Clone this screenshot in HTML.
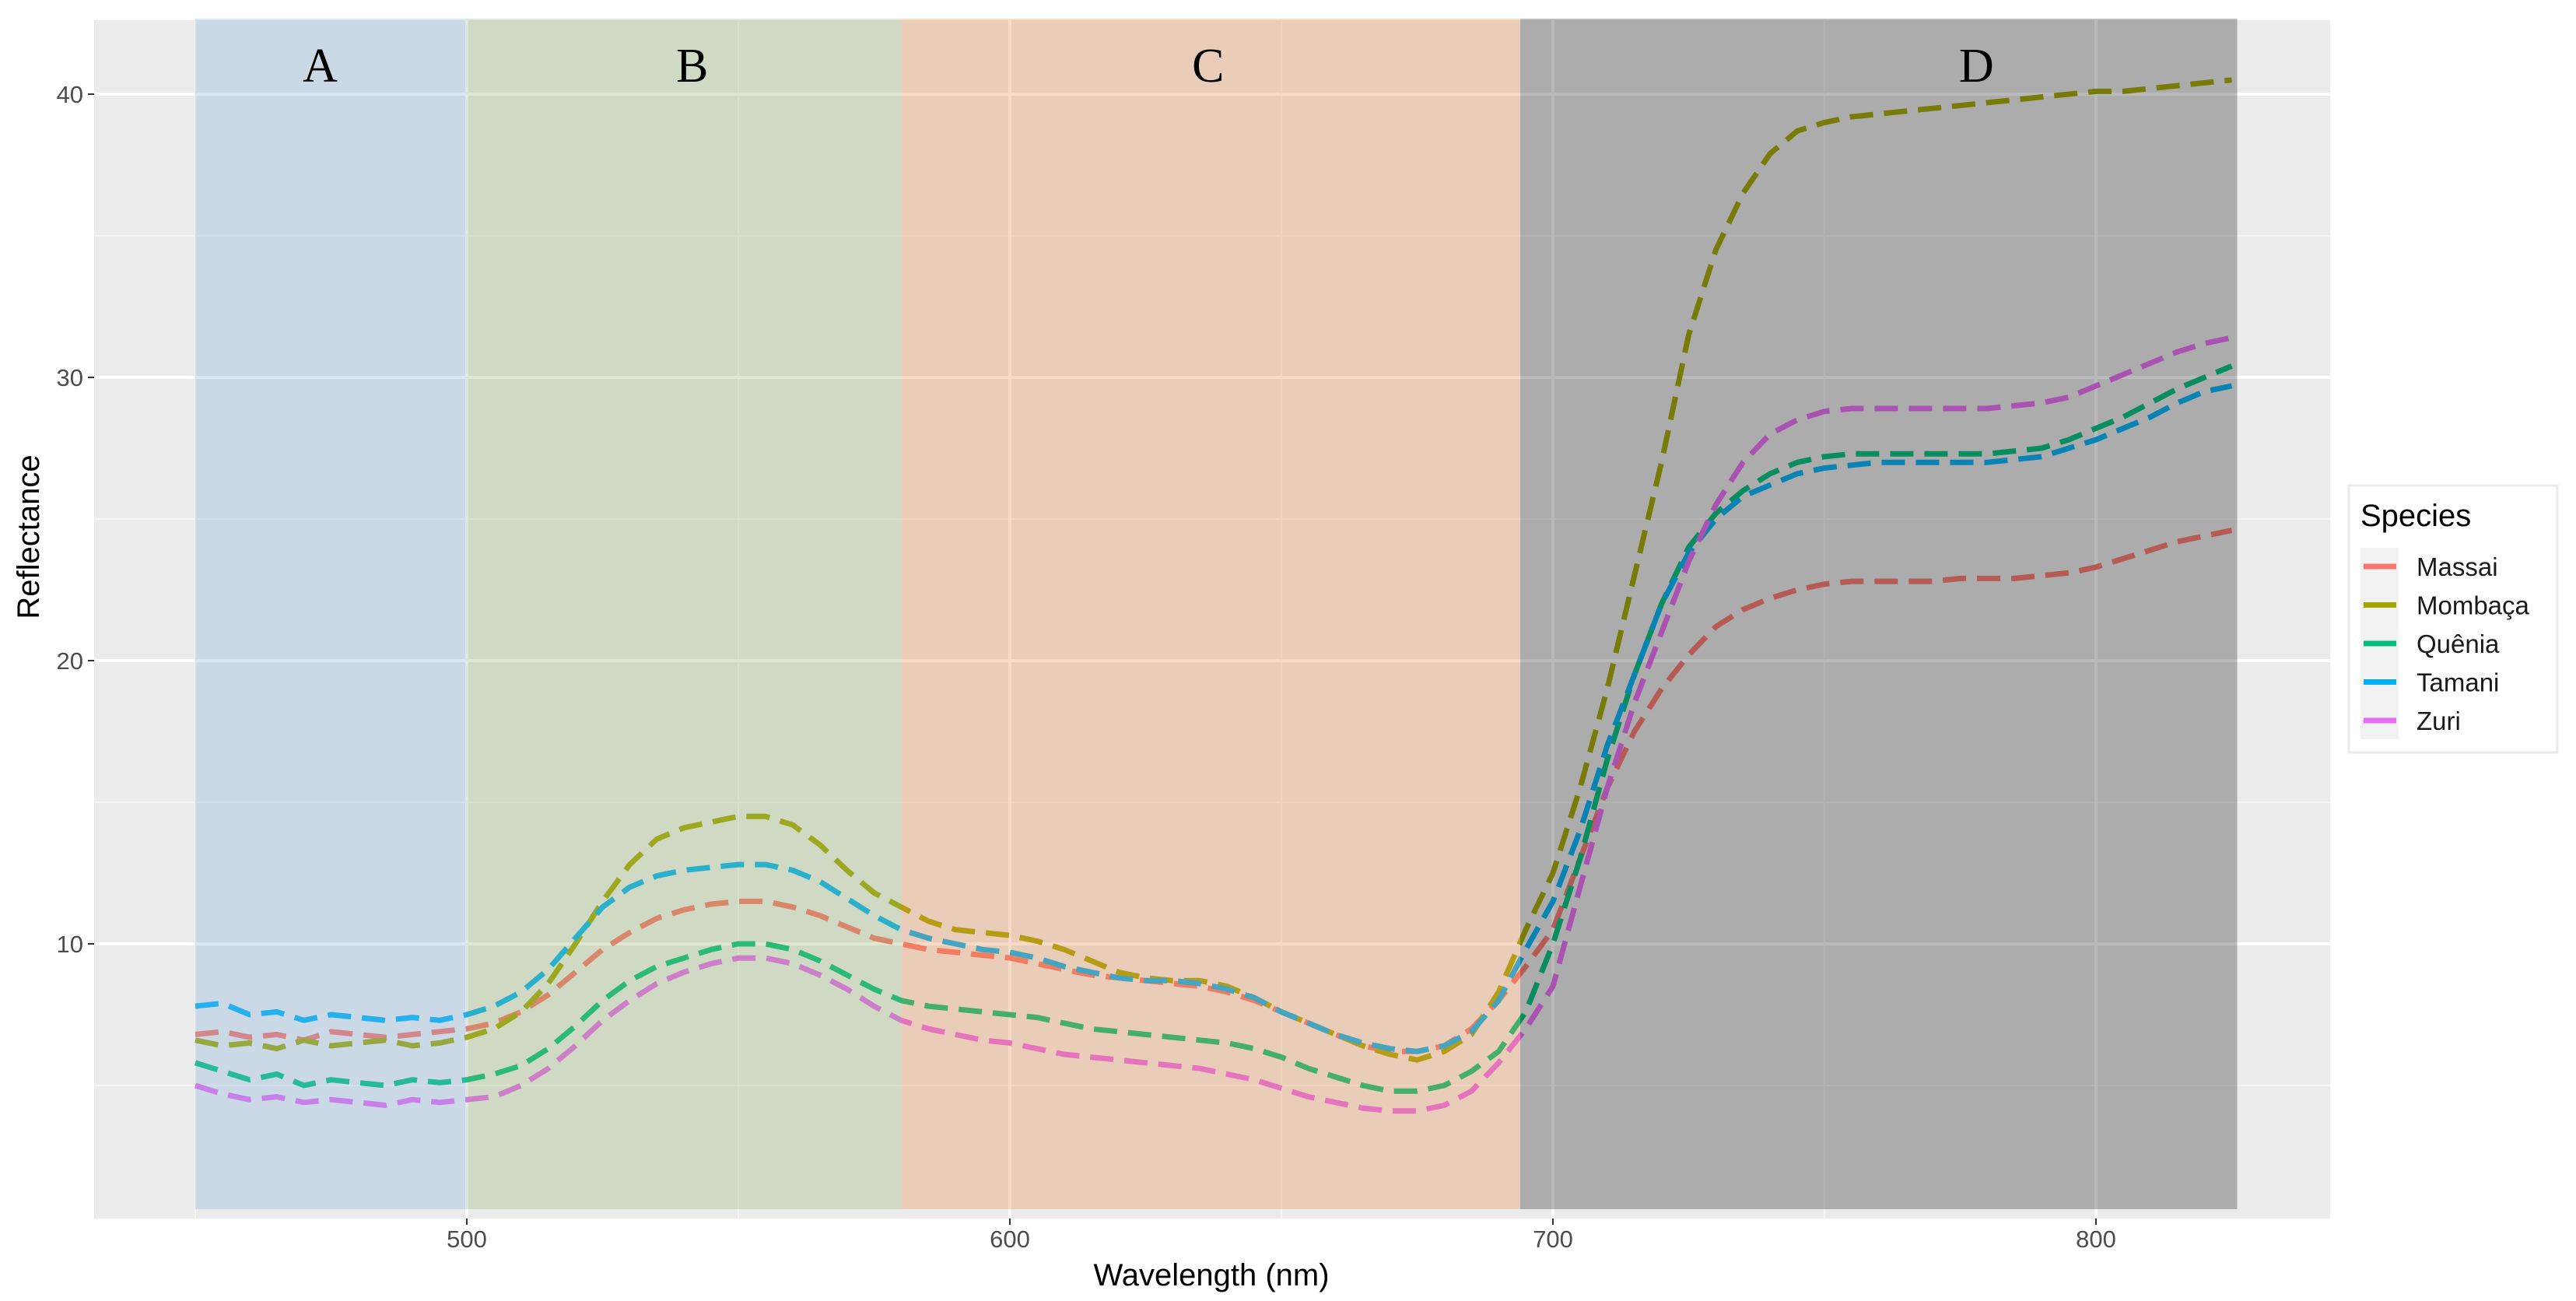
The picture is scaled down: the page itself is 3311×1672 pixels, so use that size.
<!DOCTYPE html>
<html><head><meta charset="utf-8"><style>
html,body{margin:0;padding:0;background:#fff;}
svg{display:block;}
text{font-family:"Liberation Sans",sans-serif;}
</style></head><body>
<svg id="chart" width="3311" height="1672" xmlns="http://www.w3.org/2000/svg"></svg>
<script>
const wavelengths = [];
for (let w = 450; w <= 825; w += 5) wavelengths.push(w);
const seriesNames = ["Massai","Mombaça","Quênia","Tamani","Zuri"];
const seriesColors = ["#F8766D","#A3A500","#00BF7D","#00B0F6","#E76BF3"];
const massai = [6.8,6.9,6.7,6.8,6.6,6.9,6.8,6.7,6.8,6.9,7.0,
 7.2,7.6,8.2,9.0,9.8,10.4,10.9,11.2,11.4,
 11.5,11.5,11.3,11.0,10.6,10.2,10.0,
 9.8,9.7,9.6,9.5,9.3,9.1,8.9,8.8,8.7,8.6,8.5,8.3,
 8.0,7.6,7.2,6.8,6.4,6.2,6.2,6.4,7.0,8.0,9.2,
 10.5,13.0,15.5,17.5,19.0,20.2,21.2,21.8,22.2,22.5,22.7,
 22.8,22.8,22.8,22.8,22.9,22.9,22.9,23.0,23.1,23.3,23.6,23.9,24.2,24.4,24.6];
const mombaca = [6.6,6.4,6.5,6.3,6.6,6.4,6.5,6.6,6.4,6.5,6.7,
 7.0,7.6,8.6,10.0,11.5,12.8,13.7,14.1,14.3,
 14.5,14.5,14.2,13.5,12.6,11.8,11.3,
 10.8,10.5,10.4,10.3,10.1,9.8,9.4,9.0,8.8,8.7,8.7,8.5,
 8.1,7.6,7.2,6.8,6.4,6.1,5.9,6.2,6.8,8.3,10.5,
 12.5,15.5,19.0,23.0,27.0,31.5,34.5,36.5,37.9,38.7,39.0,
 39.2,39.3,39.4,39.5,39.6,39.7,39.8,39.9,40.0,40.1,40.1,40.2,40.3,40.4,40.5];
const quenia = [5.8,5.5,5.2,5.4,5.0,5.2,5.1,5.0,5.2,5.1,5.2,
 5.4,5.7,6.3,7.1,8.0,8.7,9.2,9.5,9.8,
 10.0,10.0,9.8,9.4,8.9,8.4,8.0,
 7.8,7.7,7.6,7.5,7.4,7.2,7.0,6.9,6.8,6.7,6.6,6.5,
 6.3,6.0,5.6,5.3,5.0,4.8,4.8,5.0,5.5,6.2,7.6,
 10.0,13.0,16.5,19.5,22.0,24.0,25.2,26.0,26.6,27.0,27.2,
 27.3,27.3,27.3,27.3,27.3,27.3,27.4,27.5,27.8,28.2,28.6,29.1,29.6,30.0,30.4];
const tamani = [7.8,7.9,7.5,7.6,7.3,7.5,7.4,7.3,7.4,7.3,7.5,
 7.8,8.3,9.1,10.2,11.3,12.0,12.4,12.6,12.7,
 12.8,12.8,12.6,12.2,11.6,11.0,10.5,
 10.2,10.0,9.8,9.7,9.5,9.2,9.0,8.8,8.7,8.7,8.6,8.4,
 8.1,7.6,7.2,6.8,6.5,6.3,6.2,6.4,6.9,8.0,9.8,
 11.5,14.0,17.0,19.5,22.0,23.8,25.0,25.8,26.2,26.6,26.8,
 26.9,27.0,27.0,27.0,27.0,27.0,27.1,27.2,27.5,27.8,28.2,28.6,29.1,29.5,29.7];
const zuri = [5.0,4.7,4.5,4.6,4.4,4.5,4.4,4.3,4.5,4.4,4.5,
 4.6,5.0,5.6,6.4,7.3,8.0,8.6,9.0,9.3,
 9.5,9.5,9.3,8.9,8.4,7.8,7.3,
 7.0,6.8,6.6,6.5,6.3,6.1,6.0,5.9,5.8,5.7,5.6,5.4,
 5.2,4.9,4.6,4.4,4.2,4.1,4.1,4.3,4.8,5.8,7.0,
 8.5,12.0,15.5,18.5,21.0,23.5,25.5,27.0,28.0,28.5,28.8,
 28.9,28.9,28.9,28.9,28.9,28.9,29.0,29.1,29.3,29.7,30.1,30.5,30.9,31.2,31.4];
const seriesValues = [massai, mombaca, quenia, tamani, zuri];
const xTicks = [500,600,700,800];
const xMinor = [450,550,650,750];
const yTicks = [10,20,30,40];
const yMinor = [5,15,25,35];
const bandStarts = [450,500,580,694];
const bandEnds = [500,580,694,826];
const bandLabels = ["A","B","C","D"];
const bandLabelAt = [473,541.5,636.5,778];
const bandColors = ["rgb(125,175,215)","rgb(142,175,102)","rgb(228,135,65)","rgb(25,25,25)"];

const NS = "http://www.w3.org/2000/svg";
const svg = document.getElementById("chart");
const PL = 121, PR = 2995, PT = 26, PB = 1566;
const xS = w => 600 + (w - 500) * 6.98;
const yS = v => 1213 - (v - 10) * 36.4;
function mk(tag, attrs, parent) {
  const e = document.createElementNS(NS, tag);
  for (const k in attrs) e.setAttribute(k, attrs[k]);
  (parent || svg).appendChild(e);
  return e;
}
const panel = mk("rect", {x:PL, y:PT, width:PR-PL, height:PB-PT, fill:"#ebebeb"});


yMinor.forEach(v => { const l = mk("line",{x1:PL,x2:PR,y1:yS(v),y2:yS(v),stroke:"#f5f5f5","stroke-width":2});
  
   });
xMinor.forEach(v => { const l = mk("line",{x1:xS(v),x2:xS(v),y1:PT,y2:PB,stroke:"#f5f5f5","stroke-width":2});
  
   });
yTicks.forEach(v => { const l = mk("line",{x1:PL,x2:PR,y1:yS(v),y2:yS(v),stroke:"#fff","stroke-width":4});
  
   });
xTicks.forEach(v => { const l = mk("line",{x1:xS(v),x2:xS(v),y1:PT,y2:PB,stroke:"#fff","stroke-width":4});
  
   });

seriesValues.forEach((vals, i) => {
  const d = vals.map((v, j) => (j ? "L" : "M") + xS(wavelengths[j]).toFixed(1) + "," + yS(v).toFixed(1)).join("");
  const p = mk("path", {d, fill:"none", stroke:seriesColors[i], "stroke-width":7, "stroke-dasharray":"30 14", "stroke-linejoin":"round"});
  
  
});

bandStarts.forEach((s, i) => {
  const r = mk("rect", {x:xS(s), y:24, width:xS(bandEnds[i])-xS(s), height:1554-24, fill:bandColors[i], "fill-opacity":0.3});
  
  
  const t = mk("text", {x:xS(bandLabelAt[i]), y:105, "text-anchor":"middle", "font-size":62, fill:"#000", style:"font-family:'Liberation Serif',serif"});
  t.textContent = bandLabels[i];
  
  
});

yTicks.forEach(v => {
  const tk = mk("line",{x1:PL-8,x2:PL,y1:yS(v),y2:yS(v),stroke:"#333","stroke-width":2});
  
  
  const t = mk("text",{x:PL-14,y:yS(v)+11,"text-anchor":"end","font-size":31,fill:"#4d4d4d"});
  t.textContent = v;
  
  
});
xTicks.forEach(v => {
  const tk = mk("line",{x1:xS(v),x2:xS(v),y1:PB,y2:PB+8,stroke:"#333","stroke-width":2});
  
  
  const t = mk("text",{x:xS(v),y:PB+37,"text-anchor":"middle","font-size":31,fill:"#4d4d4d"});
  t.textContent = v;
  
  
});
const xt = mk("text",{x:1557,y:1652,"text-anchor":"middle","font-size":40,fill:"#000"});
xt.textContent = "Wavelength (nm)";


const yt = mk("text",{x:0,y:0,"text-anchor":"middle","font-size":40,fill:"#000",transform:"translate(50,690) rotate(-90)"});
yt.textContent = "Reflectance";



const lg = mk("g",{});


const lb = mk("rect",{x:3019,y:624,width:268,height:343,fill:"#fff",stroke:"#eaeaea","stroke-width":3},lg);


const lt = mk("text",{x:3034,y:676,"font-size":40,fill:"#000"},lg);
lt.textContent = "Species";


const kb = mk("rect",{x:3034,y:704,width:49,height:246,fill:"#f2f2f2"},lg);


seriesNames.forEach((n, i) => {
  const y = 728 + i * 49.5;
  const g = mk("g",{},lg);
  
  
  mk("line",{x1:3038,x2:3080,y1:y,y2:y,stroke:seriesColors[i],"stroke-width":7},g);
  const t = mk("text",{x:3106,y:y+12,"font-size":33,fill:"#1a1a1a"},g);
  t.textContent = n;
});
</script>
</body></html>
